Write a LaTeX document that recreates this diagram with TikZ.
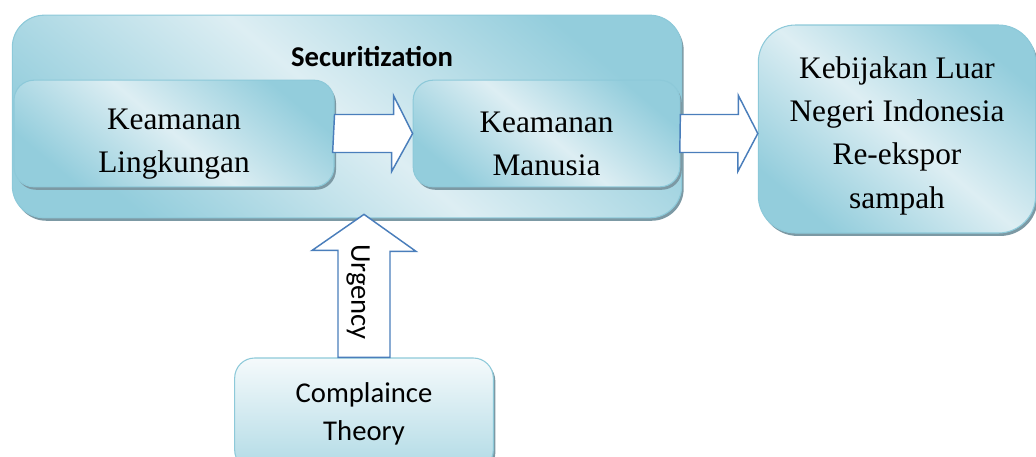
\documentclass[tikz,border=0pt]{standalone}
\usepackage{fontspec}
\setmainfont{Liberation Serif}
\newfontfamily\sansfont{Carlito}
\usetikzlibrary{shadows,calc}

\definecolor{birutua}{HTML}{93CDDC}
\definecolor{birumuda}{HTML}{DDEEF3}
\definecolor{garis}{HTML}{8DC9D9}
\definecolor{bayang}{HTML}{7C99A4}
\definecolor{panahbiru}{HTML}{4A7EBB}

\begin{document}
\begin{tikzpicture}[x=0.75pt,y=-0.75pt,
	kotak/.style={draw=garis,line width=0.8pt,rounded corners=15pt,top color=birutua,bottom color=birutua,middle color=birumuda,shading angle=-40,drop shadow={shadow xshift=1.5pt,shadow yshift=-2.2pt,fill=bayang,opacity=1},align=center,inner sep=0pt},
	teks/.style={font=\fontsize{23.5}{32.5}\selectfont},
	sans/.style={font=\sansfont\fontsize{21.5}{28.5}\selectfont},
	panah/.style={draw=panahbiru,fill=white,line width=1.1pt,line join=miter}]
					\useasboundingbox (0,0) rectangle (1036,457);
					\clip (0,0) rectangle (1036,457);
					\node[kotak,rounded corners=24pt,minimum width=502pt,minimum height=152pt] (secur) at (347,116.5) {};
					\node[sans,font=\sansfont\bfseries\fontsize{21.5}{26}\selectfont] (judul) at (372,57) {Securitization};
					\node[kotak,teks,minimum width=240pt,minimum height=80pt] (lingk) at (174,133.5) {\rule{0pt}{31pt}Keamanan\\Lingkungan};
					\node[kotak,teks,minimum width=200pt,minimum height=80pt] (manus) at (546.5,133.5) {\rule{0pt}{31pt}Keamanan\\Manusia};
					\node[kotak,teks,rounded corners=28pt,minimum width=208pt,minimum height=156pt] (kebij) at (897,129) {\rule{0pt}{26pt}Kebijakan Luar\\Negeri Indonesia\\Re-ekspor\\sampah};
					\node[kotak,sans,top color=white!70!birumuda,bottom color=birutua!60!birumuda,shading angle=0,minimum width=194pt,minimum height=84pt] (comply) at (364,414) {Complaince\\Theory};
					\draw[panah] (lingk.east) ++(0,-19) -- ++(59,0) -- ++(0,-19) -- (manus.west) -- ++(-21,38) -- ++(0,-19) -- ++(-59,0) -- cycle;
					\draw[panah] (manus.east) ++(0,-19) -- ++(58,0) -- ++(0,-19) -- (manus.east -| kebij.west) -- ++(-20,38) -- ++(0,-19) -- ++(-58,0) -- cycle;
					\draw[panah] ([xshift=-19.5pt]comply.north) -- ++(0,-107) -- ++(-26,0) -- ($(comply.north |- secur.south)+(0,-4)$) -- ++(52,37) -- ++(-26,0) -- ([xshift=19.5pt]comply.north) -- cycle;
					\node[sans,rotate=-90] (urg) at (358,292) {Urgency};
				\end{tikzpicture}
\end{document}
